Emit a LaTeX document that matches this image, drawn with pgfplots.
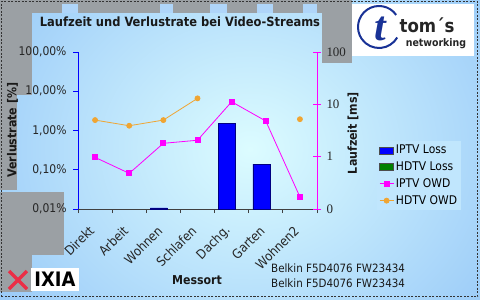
\documentclass[border=0pt]{standalone}
\usepackage{pgfplots}
\pgfplotsset{compat=1.18}
\usepackage{fontspec}
\setmainfont{DejaVu Sans Condensed}
\newfontfamily\serif{Liberation Serif}
\definecolor{bgblue}{RGB}{155,203,248}
\definecolor{bglight}{RGB}{220,252,255}
\definecolor{grayblk}{RGB}{155,160,164}
\definecolor{legbg}{RGB}{192,230,253}
\definecolor{iptvbar}{RGB}{0,0,255}
\definecolor{hdtvbar}{RGB}{0,128,0}
\definecolor{iptvline}{RGB}{255,0,255}
\definecolor{hdtvline}{RGB}{240,165,50}
\definecolor{logoblue}{RGB}{25,50,150}
\definecolor{ixiared}{RGB}{235,45,70}
\pgfplotsset{
  mybarleg/.style={legend image code/.code={\draw[##1] (0bp,-3.5bp) rectangle (14bp,3.5bp);}},
  mylineleg/.style={legend image code/.code={\draw[mark repeat=2,mark phase=2,##1] plot coordinates {(0bp,0bp) (7bp,0bp) (14bp,0bp)};}},
}
\begin{document}
\begin{tikzpicture}[x=1bp,y=1bp]
\path[use as bounding box] (0,0) rectangle (480,299);
% background
\begin{scope}
\clip (0,0) rectangle (480,299);
\fill[bgblue] (0,0) rectangle (480,299);
\shade[inner color=bglight, outer color=bgblue] (-50,-110) rectangle (550,410);
% gray artefact blocks
\fill[grayblk] (0,286) rectangle (335,299);
\fill[grayblk] (0,204) rectangle (32,299);
\fill[grayblk] (0,109) rectangle (17,204);
\fill[grayblk] (0,44) rectangle (64,107);
\fill[grayblk] (0,7) rectangle (32,44);
\fill[grayblk] (322,236) rectangle (352,299);
\fill[bgblue!80!white] (62,286) rectangle (78,295);
\fill[bgblue!80!white] (160,286) rectangle (173,295);
\fill[bgblue!80!white] (210,286) rectangle (227,295);
\fill[bgblue!80!white] (257,286) rectangle (273,295);
\fill[bgblue!80!white] (303,286) rectangle (317,295);
\end{scope}
\draw[black!80, dash pattern=on 2bp off 1.5bp, line width=1bp] (1.5,2.5) rectangle (477.5,297.5);

\begin{axis}[
  at={(78bp,90bp)}, anchor=south west, scale only axis,
  width=239bp, height=157bp,
  xmin=-0.5, xmax=6.5,
  ymode=log, ymin=0.01, ymax=100,
  log origin y=infty,
  axis x line*=bottom, axis y line*=left,
  x axis line style={-, draw=black!75, line width=0.8bp},
  y axis line style={-, draw=blue, line width=0.8bp},
  ytick={0.01,0.1,1,10,100},
  yticklabels={{0,01\%},{0,10\%},{1,00\%},{10,00\%},{100,00\%}},
  yminorticks=false,
  ytick style={draw=blue, line width=0.8bp},
  tick align=outside, major tick length=5bp, minor tick length=4bp,
  yticklabel style={font=\fontsize{12}{12}\selectfont, text=black!85, xshift=-3bp},
  xtick={0,...,6},
  xticklabels={Direkt,Arbeit,Wohnen,Schlafen,Dachg.,Garten,Wohnen2},
  major x tick style={draw=none},
  minor xtick={-0.5,0.5,...,6.5},
  minor x tick style={draw=black!75, line width=0.8bp},
  xticklabel style={yshift=-12bp, xshift=-1bp, rotate=45, anchor=east, font=\fontsize{13}{13}\selectfont, text=black!85},
]
\addplot[ybar, bar width=17bp, bar shift=-4.5bp, fill=iptvbar, draw=blue!50!black, line width=0.5bp]
  coordinates {(2,0.0107) (4,1.55) (5,0.14)};
\end{axis}

\begin{axis}[
  at={(78bp,90bp)}, anchor=south west, scale only axis,
  width=239bp, height=157bp,
  xmin=-0.5, xmax=6.5,
  ymode=log, ymin=0.1, ymax=100,
  axis x line=none, axis y line*=right,
  y axis line style={-, draw=iptvline, line width=0.8bp},
  ytick={0.1,1,10,100}, yticklabels={0,1,10,100},
  yminorticks=false,
  ytick style={draw=iptvline, line width=0.8bp},
  tick align=center, major tick length=8bp,
  yticklabel style={font=\serif\fontsize{13}{13}\selectfont, anchor=west, text=black!85, xshift=2bp},
  unbounded coords=jump,
  legend cell align=left,
  legend style={at={(1.251,0.433)}, anchor=north west, fill=legbg, draw=none,
    font=\fontsize{12}{13}\selectfont, row sep=2.5bp, inner sep=2bp},
]
\addlegendimage{area legend, fill=iptvbar, draw=black!70, mybarleg}
\addlegendentry{IPTV Loss}
\addlegendimage{area legend, fill=hdtvbar, draw=black!70, mybarleg}
\addlegendentry{HDTV Loss}
\addplot[iptvline, line width=0.8bp, mark=square*, mark size=2.5bp, mylineleg]
  coordinates {(0,0.97) (1,0.48) (2,1.80) (3,2.06) (4,11.2) (5,4.8) (6,0.17)};
\addlegendentry{IPTV OWD}
\addplot[hdtvline, line width=0.8bp, mark=*, mark size=2.5bp, mylineleg]
  coordinates {(0,5.0) (1,3.9) (2,5.0) (3,13.0) (4,nan) (5,nan) (6,5.2)};
\addlegendentry{HDTV OWD}
\end{axis}

% texts
\node[font=\bfseries\fontsize{12.8}{13}\selectfont, text=black!90] at (180,277.5) {Laufzeit und Verlustrate bei Video-Streams};
\node[font=\bfseries\fontsize{12.3}{13}\selectfont, text=black!90, rotate=90] at (12.5,169) {Verlustrate [\%]};
\node[font=\bfseries\fontsize{12.3}{13}\selectfont, text=black!90, rotate=90] at (353,166) {Laufzeit [ms]};
\node[font=\bfseries\fontsize{12.3}{13}\selectfont, text=black!90] at (197,19) {Messort};
\node[font=\fontsize{11.5}{12}\selectfont, text=black!90, anchor=base west, inner sep=0pt] at (271,27) {Belkin F5D4076 FW23434};
\node[font=\fontsize{11.5}{12}\selectfont, text=black!90, anchor=base west, inner sep=0pt] at (271,12) {Belkin F5D4076 FW23434};

% IXIA logo
\fill[white] (31,8) rectangle (79,31);
\draw[ixiared, line width=3.2bp] (9,10) -- (27,28) (9,28) -- (27,10);
\node[font=\bfseries\fontsize{20}{20}\selectfont, inner sep=0pt] at (55,19.5) {IXIA};

% tom's networking logo
\fill[white] (352,243) rectangle (474,295);
\draw[logoblue, line width=2bp] (379,272) ++(35:21) arc[start angle=35, end angle=330, radius=21];
\node[font=\serif\bfseries\itshape\fontsize{42}{42}\selectfont, text=logoblue, inner sep=0pt] at (380,270) {t};
\node[font=\bfseries\fontsize{18.5}{19}\selectfont, text=black!85, inner sep=0pt] at (427,274) {tom´s};
\node[font=\bfseries\fontsize{10.5}{11}\selectfont, text=black!85, inner sep=0pt] at (436,255) {networking};
\end{tikzpicture}
\end{document}
